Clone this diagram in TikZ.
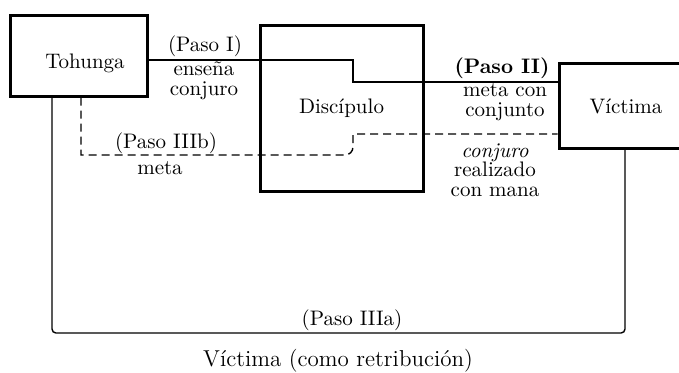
\documentclass[tikz,border=0pt]{standalone}
\usepackage{tikz}
\usetikzlibrary{positioning}

\begin{document}
\begin{tikzpicture}[
    x=0.5pt, y=-0.5pt,
    every node/.style={font=\fontsize{10.5}{9.7}\selectfont, align=center, inner sep=0pt},
    caja/.style={draw, line width=1.5pt},
    enlace/.style={line width=0.7pt},
    discont/.style={enlace, dash pattern=on 4pt off 2.5pt}
    ]
    \useasboundingbox (0,0) rectangle (679,372);
    \clip (0,0) rectangle (679,372);

    \node [caja, minimum width=68.5pt, minimum height=40.5pt, text height=12.5pt, text depth=0pt] (tohunga) at (78.5,55.5) {\hspace*{6.5pt}Tohunga};
    \node [caja, minimum width=81.5pt, minimum height=83pt] (discipulo) at (341.5,108) {Discípulo};
    \node [caja, minimum width=67pt, minimum height=42.5pt] (victima) at (626,106) {Víctima};

    % quiebres de las lineas
    \coordinate (quiebreI) at (353,60);
    \coordinate (quiebreII) at (353,82);
    \coordinate (esqIIIb) at (81,155);
    \coordinate (quiebreIIIb) at (353,134);
    \coordinate (esqIIIa) at (52,333);
    \coordinate (finIIIa) at (625,333);

    \draw [enlace] (tohunga.east |- quiebreI) -- (quiebreI) -- (quiebreII) -- (victima.west |- quiebreII);
    \draw [discont] (tohunga.south -| esqIIIb) -- (esqIIIb) [rounded corners=4pt] -- (esqIIIb -| quiebreIIIb) [sharp corners] -- (quiebreIIIb) -- (victima.west |- quiebreIIIb);
    \draw [enlace, rounded corners=2pt] (tohunga.south -| esqIIIa) -- (esqIIIa) -- (finIIIa) -- (victima.south -| finIIIa);

    \node (pasoI) at (205,46) {(Paso I)};
    \node (ensena) at (204,81) {enseña\\conjuro};
    \node (pasoII) at (502,68) {\bfseries (Paso II)};
    \node (metacon) at (505,102) {meta con\\conjunto};
    \node (realizado) at (495,170) {\textit{conjuro}\\realizado\\con mana};
    \node (pasoIIIb) at (166,143) {(Paso IIIb)};
    \node (meta) at (160,168) {meta};
    \node (pasoIIIa) at (352,320) {(Paso IIIa)};
    \node [font=\fontsize{11.5}{13}\selectfont] (retribucion) at (338,361) {Víctima (como retribución)};
\end{tikzpicture}
\end{document}
